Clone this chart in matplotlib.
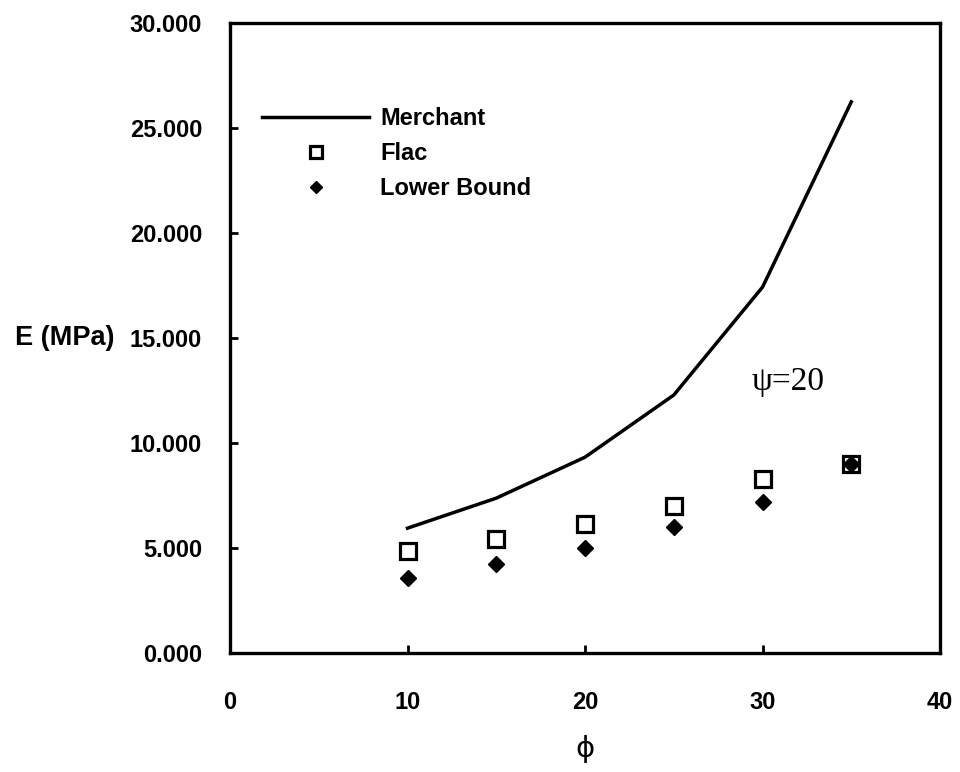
import numpy as np
from matplotlib import pyplot as plt
from matplotlib.ticker import FuncFormatter

# values
phi = [10, 15, 20, 25, 30, 35]
merchant = [5950, 7380, 9330, 12290, 17430, 26250]
flac = [4860, 5430, 6140, 7000, 8290, 9000]
lower_bound = [3570, 4240, 5000, 6000, 7190, 9000]

x_ticks = [0, 10, 20, 30, 40]
y_ticks = [0, 5000, 10000, 15000, 20000, 25000, 30000]

plt.rcParams['font.family'] = ['Liberation Sans', 'DejaVu Sans']

fig = plt.figure(figsize=(9.6, 7.72), dpi=100)
ax = fig.add_axes([0.2396, 0.154, 0.7396, 0.816])

ax.plot(phi, merchant, color="black", lw=2.5, label="Merchant")
ax.plot(phi, flac, ls="none", marker="s", ms=11, mfc="white", mec="black",
        mew=2.3, label="Flac")
ax.plot(phi, lower_bound, ls="none", marker="D", ms=8, color="black",
        label="Lower Bound")

ax.set_xlim(0, 40)
ax.set_ylim(0, 30000)
ax.set_xticks(x_ticks)
ax.set_yticks(y_ticks)
ax.yaxis.set_major_formatter(FuncFormatter(lambda v, p: f"{v/1000:.3f}"))

ax.tick_params(direction="in", length=6, width=2, labelsize=17)
ax.tick_params(axis="x", pad=27)
ax.tick_params(axis="y", pad=20)
for lab in ax.get_xticklabels() + ax.get_yticklabels():
    lab.set_fontweight("bold")
for s in ax.spines.values():
    s.set_linewidth(2.4)

ax.set_ylabel("E (MPa)", rotation=0, fontsize=19.5, fontweight="bold",
              ha="right", va="center")
ax.yaxis.set_label_coords(-0.162, 0.5)
ax.set_xlabel("\u03d5", fontsize=21, family="DejaVu Sans")
ax.xaxis.set_label_coords(0.5, -0.13)

ax.text(29.4, 12900, "\u03c8=20", fontsize=24, family="Liberation Serif",
        va="center", ha="left")

leg = ax.legend(loc="upper left", bbox_to_anchor=(0.015, 0.901), frameon=False,
                prop={"weight": "bold", "size": 17}, handlelength=4.55,
                handletextpad=0.45, labelspacing=0.52, markerscale=0.75)

fig.savefig("out.png", dpi=100)
